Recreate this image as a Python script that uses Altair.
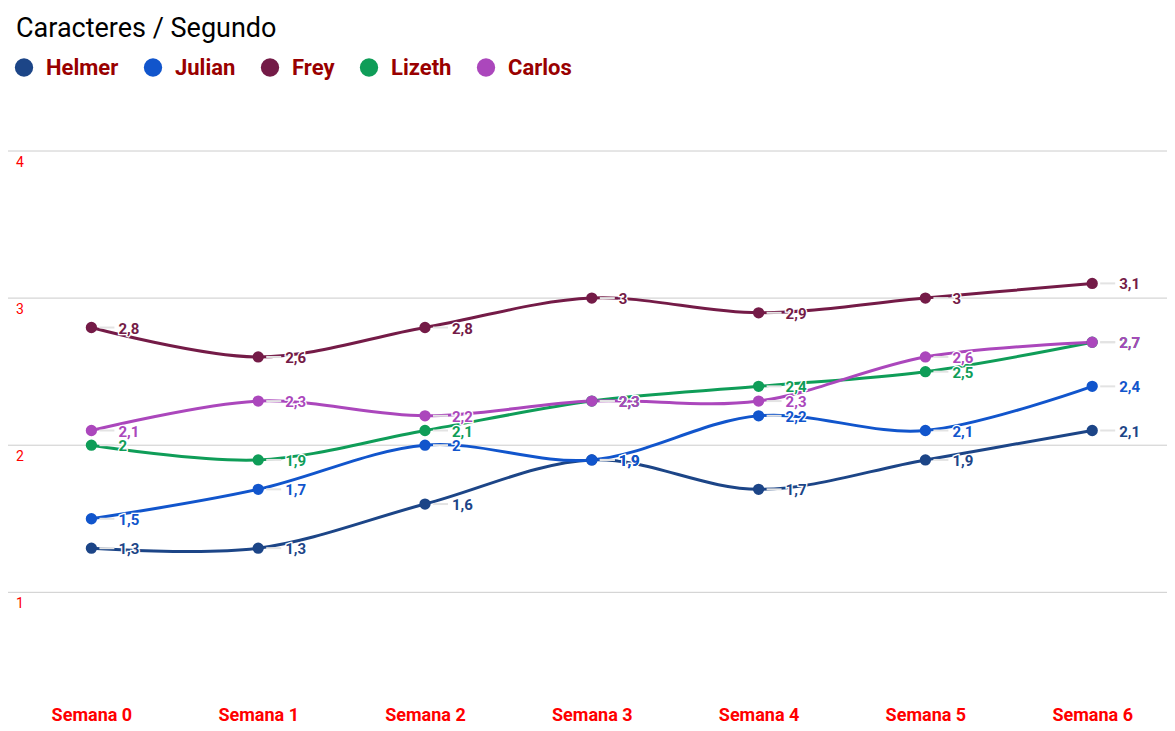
import altair as alt
import pandas as pd

weeks = ["Semana 0", "Semana 1", "Semana 2", "Semana 3", "Semana 4", "Semana 5", "Semana 6"]
series = ["Helmer", "Julian", "Frey", "Lizeth", "Carlos"]
colors = ["#1c4587", "#1155cc", "#741b47", "#0f9d58", "#ab47bc"]

helmer = [1.3, 1.3, 1.6, 1.9, 1.7, 1.9, 2.1]
julian = [1.5, 1.7, 2.0, 1.9, 2.2, 2.1, 2.4]
frey = [2.8, 2.6, 2.8, 3.0, 2.9, 3.0, 3.1]
lizeth = [2.0, 1.9, 2.1, 2.3, 2.4, 2.5, 2.7]
carlos = [2.1, 2.3, 2.2, 2.3, 2.3, 2.6, 2.7]

y_ticks = [1, 2, 3, 4]

values = {"Helmer": helmer, "Julian": julian, "Frey": frey, "Lizeth": lizeth, "Carlos": carlos}
rows = []
for si, s in enumerate(series):
    for w, v in zip(weeks, values[s]):
        rows.append({"semana": w, "serie": s, "valor": v, "orden": si,
                     "etiqueta": f"{v:g}".replace(".", ",")})
df = pd.DataFrame(rows)
ticks_df = pd.DataFrame({"t": y_ticks, "lab": [str(t) for t in y_ticks]})

FONT = "Roboto"
W, H = 1159, 559
yscale = alt.Scale(domain=[0.2, 4], nice=False, zero=False)
xscale = alt.Scale(domain=weeks, range=[83.4, 1084.2], padding=0)
xenc = alt.X("semana:N", sort=weeks, scale=xscale,
             axis=alt.Axis(title=None, labelAngle=0, labelColor="#ff0000", labelFontSize=18,
                           labelFontWeight="bold", labelFont=FONT, ticks=False, tickSize=0,
                           domain=False, labelBaseline="alphabetic", labelPadding=10,
                           grid=False))
yenc = alt.Y("valor:Q", scale=yscale,
             axis=alt.Axis(title=None, values=y_ticks, labels=False, ticks=False, domain=False,
                           grid=False))
cenc = alt.Color("serie:N", sort=series, scale=alt.Scale(domain=series, range=colors),
                 legend=alt.Legend(title=None, orient="none", direction="horizontal",
                                   legendX=5, legendY=-94.5, symbolType="circle",
                                   symbolSize=335, symbolStrokeWidth=0, labelFontSize=22,
                                   labelFont=FONT, labelFontWeight="bold", labelColor="#990000",
                                   labelOffset=11, columnPadding=23, symbolOpacity=1))

base = alt.Chart(df)
xpos = alt.X("semana:N", sort=weeks, scale=xscale)
ypos = alt.Y("valor:Q", scale=yscale)

grid = alt.Chart(ticks_df).mark_rule(color="#cccccc", strokeWidth=1).encode(
    y=alt.Y("t:Q", scale=yscale), x=alt.value(0), x2=alt.value(W))

lines = base.mark_line(interpolate="cardinal", strokeWidth=3).encode(
    x=xenc, y=yenc, color=cenc, detail="serie:N", order="orden:Q")

stems = base.mark_point(shape="M0.8,0H2.3", size=400, strokeWidth=2, color="#e3e3e3",
                        filled=False, opacity=1).encode(x=xpos, y=ypos)

points = base.mark_circle(size=128, opacity=1).encode(
    x=xpos, y=ypos,
    color=alt.Color("serie:N", scale=alt.Scale(domain=series, range=colors), legend=None),
    order="orden:Q")

halo = base.mark_text(align="left", baseline="middle", dx=27, dy=1, fontSize=15,
                      fontWeight="bold", font=FONT, stroke="white", strokeWidth=2.5,
                      color="white").encode(
    x=xpos, y=ypos, text="etiqueta:N", order="orden:Q")

labels = base.mark_text(align="left", baseline="middle", dx=27, dy=1, fontSize=15,
                        fontWeight="bold", font=FONT).encode(
    x=xpos, y=ypos, text="etiqueta:N",
    color=alt.Color("serie:N", scale=alt.Scale(domain=series, range=colors), legend=None),
    order="orden:Q")

ylabels = alt.Chart(ticks_df).mark_text(align="left", baseline="top", dy=5, fontSize=14,
                                        font=FONT, color="#ff0000").encode(
    x=alt.value(8), y=alt.Y("t:Q", scale=yscale), text="lab:N")

chart = alt.layer(grid, lines, stems, points, halo, labels, ylabels).properties(
    width=W, height=H,
    title=alt.TitleParams("Caracteres / Segundo", anchor="start", frame="group", fontSize=27,
                          font=FONT, fontWeight="normal", color="#000000", dx=8,
                          baseline="alphabetic", offset=-7),
    autosize=alt.AutoSizeParams(type="none"),
    padding={"left": 0, "top": 143, "right": 0, "bottom": 13},
).configure_view(stroke=None)

chart.save("out.html", embed_options={"renderer": "svg", "actions": False})
